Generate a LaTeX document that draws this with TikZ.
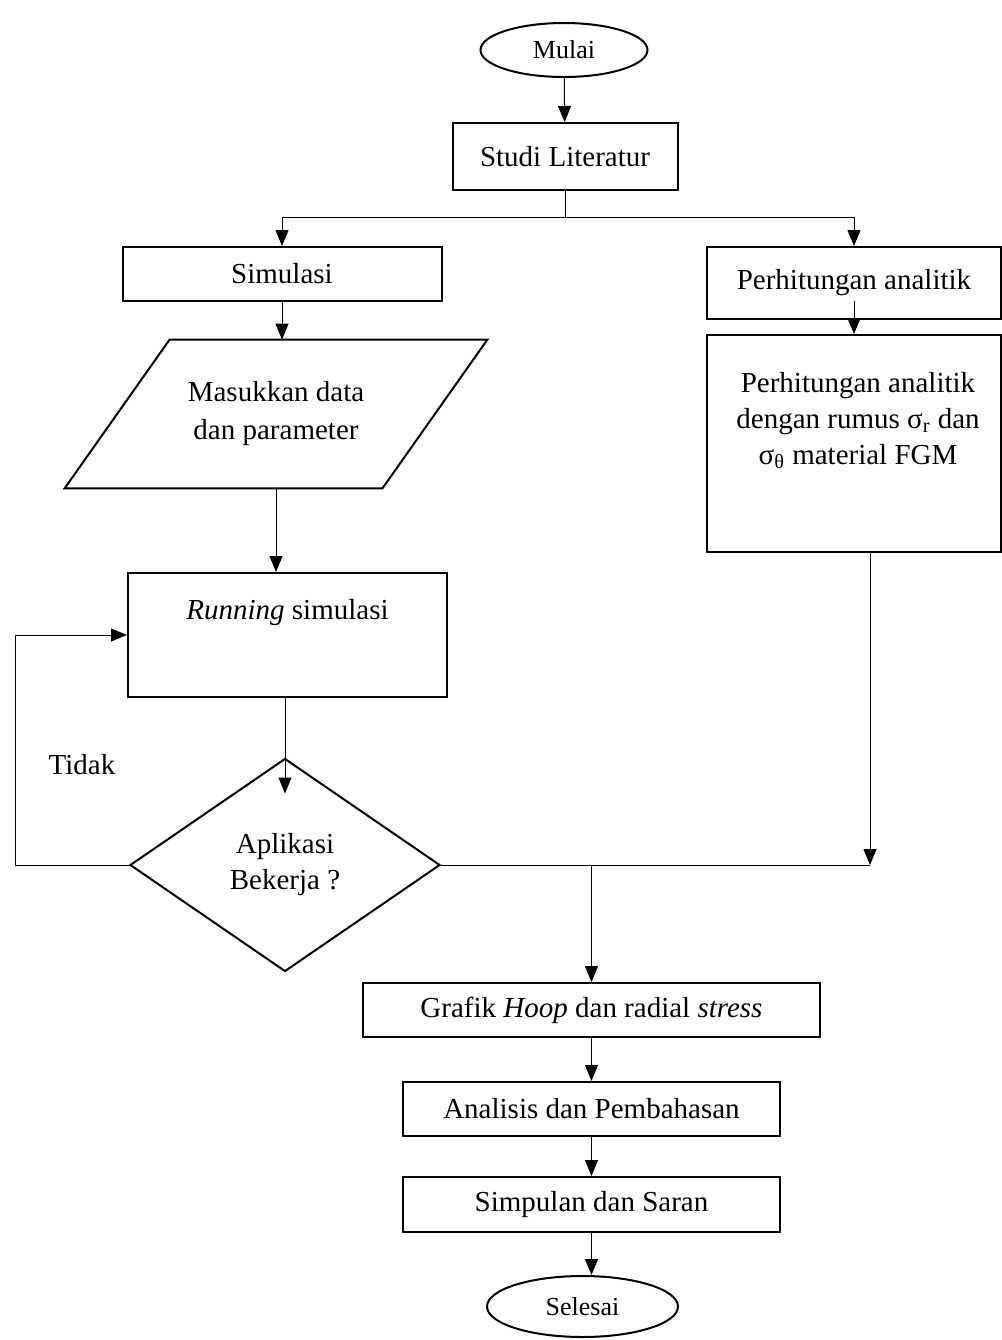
\documentclass[tikz,border=0pt]{standalone}
\usepackage{fontspec}
\setmainfont{Liberation Serif}
\usetikzlibrary{shapes.geometric,arrows.meta,calc}
\tikzset{
	outline/.style={line width=1pt},
	box/.style={draw,outline,inner sep=0pt,align=center},
	term/.style={draw,ellipse,outline,inner sep=0pt,font=\fontsize{13}{15}\selectfont},
	ln/.style={line width=0.5pt},
	arr/.style={ln,-{Triangle[width=6.5pt,length=8pt]}}
}
\begin{document}
\begin{tikzpicture}[x=0.5pt,y=-0.5pt,font=\fontsize{14.5}{18}\selectfont]
			\useasboundingbox (0,0) rectangle (1002,1340);
			\node[term,minimum width=83.5pt,minimum height=27pt] (mulai) at (564,50) {Mulai};
			\node[box,minimum width=112.5pt,minimum height=33.5pt] (studi) at (565,156.5) {Studi Literatur};
			\node[box,minimum width=159.5pt,minimum height=27pt] (simulasi) at (282,274) {Simulasi};
			\node[box,minimum width=147pt,minimum height=36pt] (hitung) at (854,283) {Perhitungan analitik};
			\node[box,minimum width=147pt,minimum height=108.5pt] (rumus) at (854,443.5) {};
			\node[anchor=north,align=center,inner sep=0pt] (rumustxt) at (858,372) {Perhitungan analitik\\dengan rumus σ\textsubscript{r} dan\\σ\textsubscript{θ} material FGM};
			
			\node[minimum width=158.5pt,minimum height=74pt,inner sep=0pt,align=center] (masuk) at (276,414) {Masukkan data\\[1pt]dan parameter};
			\draw[outline] ($(masuk.north west)+(52.5,0)$) -- ($(masuk.north east)+(52.5,0)$) -- ($(masuk.south east)+(-52.5,0)$) -- ($(masuk.south west)+(-52.5,0)$) -- cycle;
			\node[box,minimum width=159.5pt,minimum height=62pt,text height=23pt,text depth=39pt] (running) at (287.5,635) {\textit{Running} simulasi};
			\node[draw,diamond,outline,minimum width=155pt,minimum height=106.5pt,inner sep=0pt,align=center] (cek) at (285,865) {Aplikasi\\Bekerja ?};
			\node (tidak) at (82,765) {Tidak};
			
			\node[box,minimum width=228.5pt,minimum height=27pt] (grafik) at (591.5,1010) {Grafik \textit{Hoop} dan radial \textit{stress}};
			\node[box,minimum width=188.5pt,minimum height=27pt] (analisis) at (591.5,1109) {Analisis dan Pembahasan};
			\node[box,minimum width=188.5pt,minimum height=27.5pt] (simpulan) at (591.5,1204.5) {Simpulan dan Saran};
			\node[term,minimum width=95.5pt,minimum height=30.5pt] (selesai) at (582.5,1306.5) {Selesai};
			
			\coordinate (split) at ($(studi.south)+(0,26)$);
			\coordinate (back) at (15,865);
			\coordinate (join) at (870,865);
			
			\draw[arr] (mulai) -- (studi);
			\draw[ln] (studi.south) -- (split);
			\draw[arr] (split) -| (simulasi.north);
			\draw[arr] (split) -| (hitung.north);
			\draw[arr] ([yshift=9.5pt]hitung.south) -- (rumus.north);
			\draw[arr] (simulasi.south) -- (simulasi.south |- masuk.north);
			\draw[arr] (masuk.south) -- (masuk.south |- running.north);
			\draw[arr] (cek.north |- running.south) -- ([yshift=-18pt]cek.north);
			\draw[arr] (cek.west) -- (back) |- (running.west);
			\draw[ln] (cek.east) -- (join);
			\draw[arr] (join |- rumus.south) -- (join);
			\draw[arr] (cek.east -| grafik.north) -- (grafik.north);
			\draw[arr] (grafik) -- (analisis);
			\draw[arr] (analisis) -- (simpulan);
			\draw[arr] (simpulan.south) -- (simpulan.south |- selesai.north);
		\end{tikzpicture}
\end{document}
